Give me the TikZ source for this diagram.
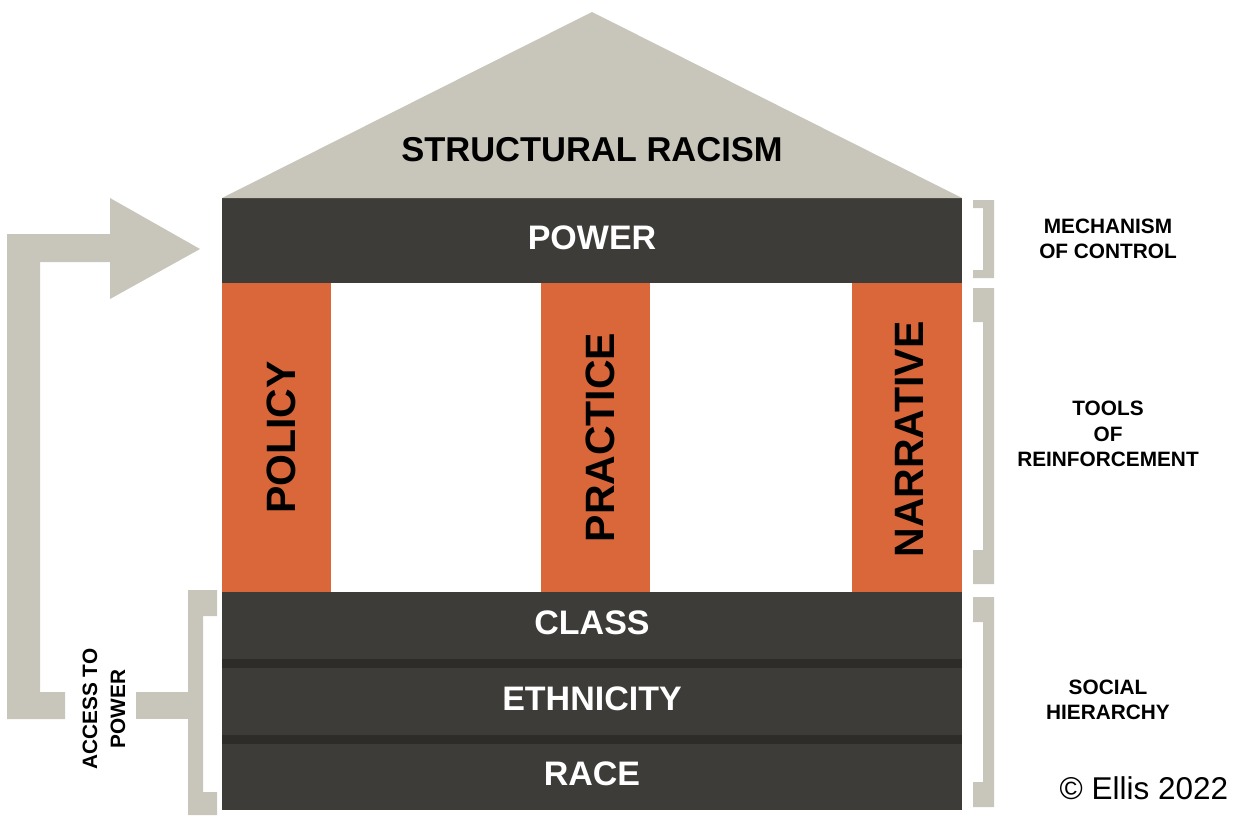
\documentclass[tikz,border=0pt]{standalone}
\usepackage{fontspec}
\setmainfont{Liberation Sans}
\usepackage{tikz}
\usetikzlibrary{positioning}

\definecolor{roofgray}{RGB}{200,197,186}
\definecolor{slab}{RGB}{61,60,56}
\definecolor{seam}{RGB}{45,44,40}
\definecolor{brick}{RGB}{218,103,58}

\tikzset{
  slabbox/.style={fill=slab, text=white, inner sep=0pt, outer sep=0pt, minimum width=740pt,
    text depth=6pt, font=\bfseries\fontsize{34}{40}\selectfont},
  pillarbox/.style={fill=brick, inner sep=0pt, outer sep=0pt, minimum height=309pt},
  pillartext/.style={rotate=90, inner sep=0pt, font=\bfseries\fontsize{41}{48}\selectfont},
  sidetext/.style={align=center, inner sep=0pt, font=\bfseries\fontsize{20.8}{25.5}\selectfont},
}

\begin{document}
\begin{tikzpicture}[x=1pt, y=-1pt]
\useasboundingbox (0,0) rectangle (1241,815);
% Nodes
\coordinate (apex) at (592,12);
\node[slabbox, minimum height=85pt](power) at (592,240.5){POWER};
\node[pillarbox, minimum width=109pt, below right=0pt and 0pt of power.south west](policy){};
\node[pillarbox, minimum width=109pt](practice) at (595.5,437.5){};
\node[pillarbox, minimum width=110pt, below left=0pt and 0pt of power.south east](narrative){};
\node[slabbox, minimum height=67pt, below right=0pt and 0pt of policy.south west](class){CLASS};
\node[slabbox, minimum height=67pt, below=9pt of class](ethnicity){ETHNICITY};
\node[slabbox, minimum height=66pt, below=9pt of ethnicity](race){RACE};
% Roof
\fill[roofgray] (power.north west) -- (apex) -- (power.north east) -- cycle;
\node[font=\bfseries\fontsize{34.5}{40}\selectfont](title) at (592,149.5){STRUCTURAL RACISM};
% Seams
\fill[seam] (class.south west) rectangle (ethnicity.north east);
\fill[seam] (ethnicity.south west) rectangle (race.north east);
% Pillar labels
\node[pillartext](policylabel) at ([xshift=4.5pt]policy.center){POLICY};
\node[pillartext](practicelabel) at ([xshift=4.5pt]practice.center){PRACTICE};
\node[pillartext](narrativelabel) at ([xshift=2.5pt,yshift=-2pt]narrative.center){NARRATIVE};
% Brackets
\foreach \yt/\yb/\arm in {200/278/8, 288/584/34, 597/807/25}
  \fill[roofgray] (973,\yt) -- (994,\yt) -- (994,\yb) -- (973,\yb) -- (973,\yb-\arm)
    -- (983,\yb-\arm) -- (983,\yt+\arm) -- (973,\yt+\arm) -- cycle;
\fill[roofgray] (217,590) -- (188,590) -- (188,815) -- (217,815) -- (217,792)
  -- (203,792) -- (203,616) -- (217,616) -- cycle;
\fill[roofgray] (136,692) rectangle (188,719);
% Arrow
\fill[roofgray] (7,234) -- (110,234) -- (110,198) -- (200,249) -- (110,299)
  -- (110,262) -- (40,262) -- (40,692) -- (65,692) -- (65,719) -- (7,719) -- cycle;
% Side labels
\node[sidetext](mechanism) at (1108,239){MECHANISM\\OF CONTROL};
\node[sidetext](tools) at (1108,434){TOOLS\\OF\\REINFORCEMENT};
\node[sidetext](social) at (1108,700){SOCIAL\\HIERARCHY};
\node[sidetext, rotate=90, font=\bfseries\fontsize{20.8}{28}\selectfont](access) at (104,709){ACCESS TO\\POWER};
\node[inner sep=0pt, font=\fontsize{31.5}{36}\selectfont](credit) at (1144,788){© Ellis 2022};
\end{tikzpicture}
\end{document}
